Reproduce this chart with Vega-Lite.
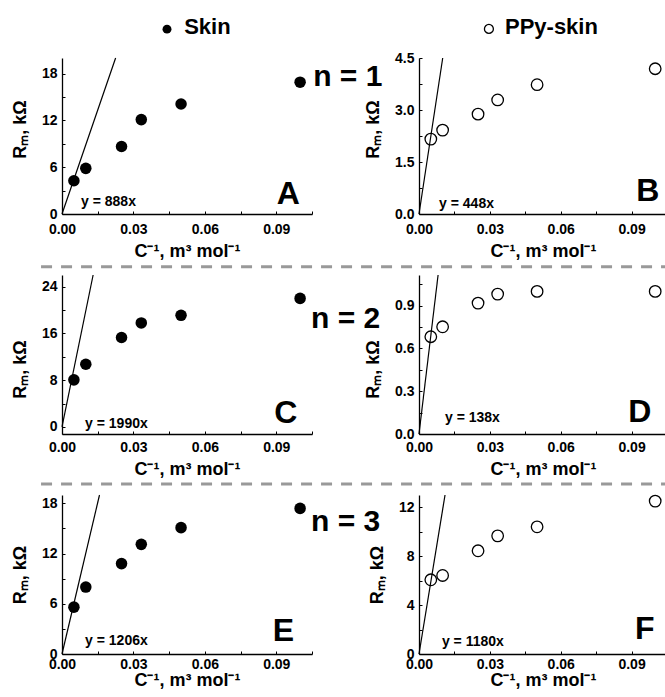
{
  "$schema": "https://vega.github.io/schema/vega-lite/v6.json",
  "padding": {"left": 11, "top": 15, "right": 0, "bottom": 0},
  "config": {
    "font": "Liberation Sans",
    "view": {"stroke": null},
    "axis": {"grid": false, "domainColor": "black", "domainWidth": 1.3, "tickColor": "black", "tickWidth": 1, "tickSize": -3, "labelFont": "Liberation Sans", "labelFontSize": 14, "labelFontWeight": "bold", "labelColor": "black", "labelOverlap": false, "labelFlush": false, "titleFont": "Liberation Sans", "titleFontSize": 18, "titleFontWeight": "bold", "titleColor": "black"},
    "axisX": {"labelPadding": 11, "titlePadding": 6},
    "axisY": {"labelPadding": 8, "titlePadding": 12},
    "text": {"font": "Liberation Sans", "fontWeight": "bold", "color": "black"}
  },
  "bounds": "flush",
  "align": "each",
  "columns": 2,
  "spacing": {"row": 61, "column": 107},
  "concat": [
        {
          "width": 250, "height": 156,
          "encoding": {
            "x": {"field": "x", "type": "quantitative", "title": "C⁻¹, m³ mol⁻¹", "scale": {"domain": [0, 0.105], "nice": false, "zero": false}, "axis": {"values": [0, 0.015, 0.03, 0.045, 0.06, 0.075, 0.09, 0.105], "labelExpr": "abs(datum.value/0.03 - round(datum.value/0.03)) < 0.01 ? format(datum.value, '.2f') : ''"}},
            "y": {"field": "y", "type": "quantitative", "title": "Rₘ, kΩ", "scale": {"domain": [0, 20], "nice": false, "zero": false}, "axis": {"titleY": 71, "values": [0, 3, 6, 9, 12, 15, 18], "labelExpr": "abs(datum.value/6 - round(datum.value/6)) < 0.01 ? format(datum.value, 'd') : ''"}}
          },
          "layer": [
            {"data": {"values": [{"x": 0, "y": 0, "x2": 0.02252, "y2": 20}]}, "mark": {"type": "rule", "color": "black", "strokeWidth": 1.2}, "encoding": {"x2": {"field": "x2"}, "y2": {"field": "y2"}}},
            {"data": {"values": [{"x": 0.005, "y": 4.26}, {"x": 0.01, "y": 5.85}, {"x": 0.025, "y": 8.65}, {"x": 0.0333, "y": 12.1}, {"x": 0.05, "y": 14.1}, {"x": 0.1, "y": 16.9}]}, "mark": {"type": "circle", "color": "black", "opacity": 1, "size": 133}},
            {"data": {"values": [{"x": 0.0441, "y": 23.7}]}, "mark": {"type": "circle", "color": "black", "opacity": 1, "size": 80}},
            {"data": {"values": [{"x": 0.0513, "y": 23.08, "label": "Skin"}]}, "mark": {"type": "text", "align": "left", "baseline": "alphabetic", "fontSize": 22}, "encoding": {"text": {"field": "label"}}},
            {"data": {"values": [{"x": 0.008, "y": 1.03, "label": "y = 888x"}]}, "mark": {"type": "text", "align": "left", "baseline": "alphabetic", "fontSize": 14}, "encoding": {"text": {"field": "label"}}},
            {"data": {"values": [{"x": 0.095, "y": 1.28, "label": "A"}]}, "mark": {"type": "text", "align": "center", "baseline": "alphabetic", "fontSize": 32}, "encoding": {"text": {"field": "label"}}},
            {"data": {"values": [{"x": 0.1055, "y": 16.4, "label": "n = 1"}]}, "mark": {"type": "text", "align": "left", "baseline": "alphabetic", "fontSize": 30}, "encoding": {"text": {"field": "label"}}}
          ]
        },
        {
          "width": 248, "height": 156,
          "encoding": {
            "x": {"field": "x", "type": "quantitative", "title": "C⁻¹, m³ mol⁻¹", "scale": {"domain": [0, 0.105], "nice": false, "zero": false}, "axis": {"values": [0, 0.015, 0.03, 0.045, 0.06, 0.075, 0.09, 0.105], "labelExpr": "abs(datum.value/0.03 - round(datum.value/0.03)) < 0.01 ? format(datum.value, '.2f') : ''"}},
            "y": {"field": "y", "type": "quantitative", "title": "Rₘ, kΩ", "scale": {"domain": [0, 4.5], "nice": false, "zero": false}, "axis": {"titleY": 71, "values": [0, 0.75, 1.5, 2.25, 3, 3.75, 4.5], "labelExpr": "abs(datum.value/1.5 - round(datum.value/1.5)) < 0.01 ? format(datum.value, '.1f') : ''"}}
          },
          "layer": [
            {"data": {"values": [{"x": 0, "y": 0, "x2": 0.01004, "y2": 4.5}]}, "mark": {"type": "rule", "color": "black", "strokeWidth": 1.2}, "encoding": {"x2": {"field": "x2"}, "y2": {"field": "y2"}}},
            {"data": {"values": [{"x": 0.005, "y": 2.16}, {"x": 0.01, "y": 2.42}, {"x": 0.025, "y": 2.88}, {"x": 0.0333, "y": 3.29}, {"x": 0.05, "y": 3.73}, {"x": 0.1, "y": 4.19}]}, "mark": {"type": "point", "shape": "circle", "filled": false, "color": "black", "strokeWidth": 1.3, "opacity": 1, "size": 133}},
            {"data": {"values": [{"x": 0.0296, "y": 5.34}]}, "mark": {"type": "point", "shape": "circle", "filled": false, "color": "black", "strokeWidth": 1.3, "opacity": 1, "size": 80}},
            {"data": {"values": [{"x": 0.0364, "y": 5.19, "label": "PPy-skin"}]}, "mark": {"type": "text", "align": "left", "baseline": "alphabetic", "fontSize": 22}, "encoding": {"text": {"field": "label"}}},
            {"data": {"values": [{"x": 0.0085, "y": 0.17, "label": "y = 448x"}]}, "mark": {"type": "text", "align": "left", "baseline": "alphabetic", "fontSize": 14}, "encoding": {"text": {"field": "label"}}},
            {"data": {"values": [{"x": 0.0969, "y": 0.375, "label": "B"}]}, "mark": {"type": "text", "align": "center", "baseline": "alphabetic", "fontSize": 32}, "encoding": {"text": {"field": "label"}}}
          ]
        },
        {
          "width": 250, "height": 159,
          "encoding": {
            "x": {"field": "x", "type": "quantitative", "title": "C⁻¹, m³ mol⁻¹", "scale": {"domain": [0, 0.105], "nice": false, "zero": false}, "axis": {"labelPadding": 9, "values": [0, 0.015, 0.03, 0.045, 0.06, 0.075, 0.09, 0.105], "labelExpr": "abs(datum.value/0.03 - round(datum.value/0.03)) < 0.01 ? format(datum.value, '.2f') : ''"}},
            "y": {"field": "y", "type": "quantitative", "title": "Rₘ, kΩ", "scale": {"domain": [-1.2, 26], "nice": false, "zero": false}, "axis": {"titleY": 94, "values": [0, 4, 8, 12, 16, 20, 24], "labelExpr": "abs(datum.value/8 - round(datum.value/8)) < 0.01 ? format(datum.value, 'd') : ''"}}
          },
          "layer": [
            {"data": {"values": [{"x": -0.0088, "x2": 0.254, "y": 27.4}]}, "mark": {"type": "rule", "color": "#999999", "strokeWidth": 3, "strokeDash": [11, 9]}, "encoding": {"x2": {"field": "x2"}}},
            {"data": {"values": [{"x": 0, "y": 0, "x2": 0.01307, "y2": 26}]}, "mark": {"type": "rule", "color": "black", "strokeWidth": 1.2}, "encoding": {"x2": {"field": "x2"}, "y2": {"field": "y2"}}},
            {"data": {"values": [{"x": 0.005, "y": 8.06}, {"x": 0.01, "y": 10.74}, {"x": 0.025, "y": 15.3}, {"x": 0.0333, "y": 17.8}, {"x": 0.05, "y": 19.1}, {"x": 0.1, "y": 22.0}]}, "mark": {"type": "circle", "color": "black", "opacity": 1, "size": 133}},
            {"data": {"values": [{"x": 0.0097, "y": -0.17, "label": "y = 1990x"}]}, "mark": {"type": "text", "align": "left", "baseline": "alphabetic", "fontSize": 14}, "encoding": {"text": {"field": "label"}}},
            {"data": {"values": [{"x": 0.094, "y": 0.7, "label": "C"}]}, "mark": {"type": "text", "align": "center", "baseline": "alphabetic", "fontSize": 32}, "encoding": {"text": {"field": "label"}}},
            {"data": {"values": [{"x": 0.1046, "y": 16.96, "label": "n = 2"}]}, "mark": {"type": "text", "align": "left", "baseline": "alphabetic", "fontSize": 30}, "encoding": {"text": {"field": "label"}}}
          ]
        },
        {
          "width": 248, "height": 159,
          "encoding": {
            "x": {"field": "x", "type": "quantitative", "title": "C⁻¹, m³ mol⁻¹", "scale": {"domain": [0, 0.105], "nice": false, "zero": false}, "axis": {"labelPadding": 9, "values": [0, 0.015, 0.03, 0.045, 0.06, 0.075, 0.09, 0.105], "labelExpr": "abs(datum.value/0.03 - round(datum.value/0.03)) < 0.01 ? format(datum.value, '.2f') : ''"}},
            "y": {"field": "y", "type": "quantitative", "title": "Rₘ, kΩ", "scale": {"domain": [0, 1.115], "nice": false, "zero": false}, "axis": {"titleY": 94, "values": [0, 0.15, 0.3, 0.45, 0.6, 0.75, 0.9, 1.05], "labelExpr": "abs(datum.value/0.3 - round(datum.value/0.3)) < 0.01 ? format(datum.value, '.1f') : ''"}}
          },
          "layer": [
            {"data": {"values": [{"x": 0, "y": 0, "x2": 0.00808, "y2": 1.115}]}, "mark": {"type": "rule", "color": "black", "strokeWidth": 1.2}, "encoding": {"x2": {"field": "x2"}, "y2": {"field": "y2"}}},
            {"data": {"values": [{"x": 0.005, "y": 0.682}, {"x": 0.01, "y": 0.752}, {"x": 0.025, "y": 0.918}, {"x": 0.0333, "y": 0.981}, {"x": 0.05, "y": 1.0}, {"x": 0.1, "y": 1.0}]}, "mark": {"type": "point", "shape": "circle", "filled": false, "color": "black", "strokeWidth": 1.3, "opacity": 1, "size": 133}},
            {"data": {"values": [{"x": 0.011, "y": 0.084, "label": "y = 138x"}]}, "mark": {"type": "text", "align": "left", "baseline": "alphabetic", "fontSize": 14}, "encoding": {"text": {"field": "label"}}},
            {"data": {"values": [{"x": 0.0935, "y": 0.084, "label": "D"}]}, "mark": {"type": "text", "align": "center", "baseline": "alphabetic", "fontSize": 32}, "encoding": {"text": {"field": "label"}}}
          ]
        },
        {
          "width": 250, "height": 159,
          "encoding": {
            "x": {"field": "x", "type": "quantitative", "title": "C⁻¹, m³ mol⁻¹", "scale": {"domain": [0, 0.105], "nice": false, "zero": false}, "axis": {"labelPadding": 6, "titlePadding": 0, "values": [0, 0.015, 0.03, 0.045, 0.06, 0.075, 0.09, 0.105], "labelExpr": "abs(datum.value/0.03 - round(datum.value/0.03)) < 0.01 ? format(datum.value, '.2f') : ''"}},
            "y": {"field": "y", "type": "quantitative", "title": "Rₘ, kΩ", "scale": {"domain": [0, 19], "nice": false, "zero": false}, "axis": {"values": [0, 3, 6, 9, 12, 15, 18], "labelExpr": "abs(datum.value/6 - round(datum.value/6)) < 0.01 ? format(datum.value, 'd') : ''"}}
          },
          "layer": [
            {"data": {"values": [{"x": -0.0088, "x2": 0.254, "y": 20.3}]}, "mark": {"type": "rule", "color": "#999999", "strokeWidth": 3, "strokeDash": [11, 9]}, "encoding": {"x2": {"field": "x2"}}},
            {"data": {"values": [{"x": 0, "y": 0, "x2": 0.01575, "y2": 19}]}, "mark": {"type": "rule", "color": "black", "strokeWidth": 1.2}, "encoding": {"x2": {"field": "x2"}, "y2": {"field": "y2"}}},
            {"data": {"values": [{"x": 0.005, "y": 5.6}, {"x": 0.01, "y": 8.0}, {"x": 0.025, "y": 10.8}, {"x": 0.0333, "y": 13.1}, {"x": 0.05, "y": 15.1}, {"x": 0.1, "y": 17.4}]}, "mark": {"type": "circle", "color": "black", "opacity": 1, "size": 133}},
            {"data": {"values": [{"x": 0.0097, "y": 1.08, "label": "y = 1206x"}]}, "mark": {"type": "text", "align": "left", "baseline": "alphabetic", "fontSize": 14}, "encoding": {"text": {"field": "label"}}},
            {"data": {"values": [{"x": 0.093, "y": 1.55, "label": "E"}]}, "mark": {"type": "text", "align": "center", "baseline": "alphabetic", "fontSize": 32}, "encoding": {"text": {"field": "label"}}},
            {"data": {"values": [{"x": 0.1046, "y": 14.7, "label": "n = 3"}]}, "mark": {"type": "text", "align": "left", "baseline": "alphabetic", "fontSize": 30}, "encoding": {"text": {"field": "label"}}}
          ]
        },
        {
          "width": 248, "height": 159,
          "encoding": {
            "x": {"field": "x", "type": "quantitative", "title": "C⁻¹, m³ mol⁻¹", "scale": {"domain": [0, 0.105], "nice": false, "zero": false}, "axis": {"labelPadding": 6, "titlePadding": 0, "values": [0, 0.015, 0.03, 0.045, 0.06, 0.075, 0.09, 0.105], "labelExpr": "abs(datum.value/0.03 - round(datum.value/0.03)) < 0.01 ? format(datum.value, '.2f') : ''"}},
            "y": {"field": "y", "type": "quantitative", "title": "Rₘ, kΩ", "scale": {"domain": [0, 13], "nice": false, "zero": false}, "axis": {"values": [0, 2, 4, 6, 8, 10, 12], "labelExpr": "abs(datum.value/4 - round(datum.value/4)) < 0.01 ? format(datum.value, 'd') : ''"}}
          },
          "layer": [
            {"data": {"values": [{"x": 0, "y": 0, "x2": 0.01102, "y2": 13}]}, "mark": {"type": "rule", "color": "black", "strokeWidth": 1.2}, "encoding": {"x2": {"field": "x2"}, "y2": {"field": "y2"}}},
            {"data": {"values": [{"x": 0.005, "y": 6.07}, {"x": 0.01, "y": 6.42}, {"x": 0.025, "y": 8.44}, {"x": 0.0333, "y": 9.66}, {"x": 0.05, "y": 10.4}, {"x": 0.1, "y": 12.5}]}, "mark": {"type": "point", "shape": "circle", "filled": false, "color": "black", "strokeWidth": 1.3, "opacity": 1, "size": 133}},
            {"data": {"values": [{"x": 0.0097, "y": 0.65, "label": "y = 1180x"}]}, "mark": {"type": "text", "align": "left", "baseline": "alphabetic", "fontSize": 14}, "encoding": {"text": {"field": "label"}}},
            {"data": {"values": [{"x": 0.0956, "y": 1.22, "label": "F"}]}, "mark": {"type": "text", "align": "center", "baseline": "alphabetic", "fontSize": 32}, "encoding": {"text": {"field": "label"}}}
          ]
        }
  ]
}
